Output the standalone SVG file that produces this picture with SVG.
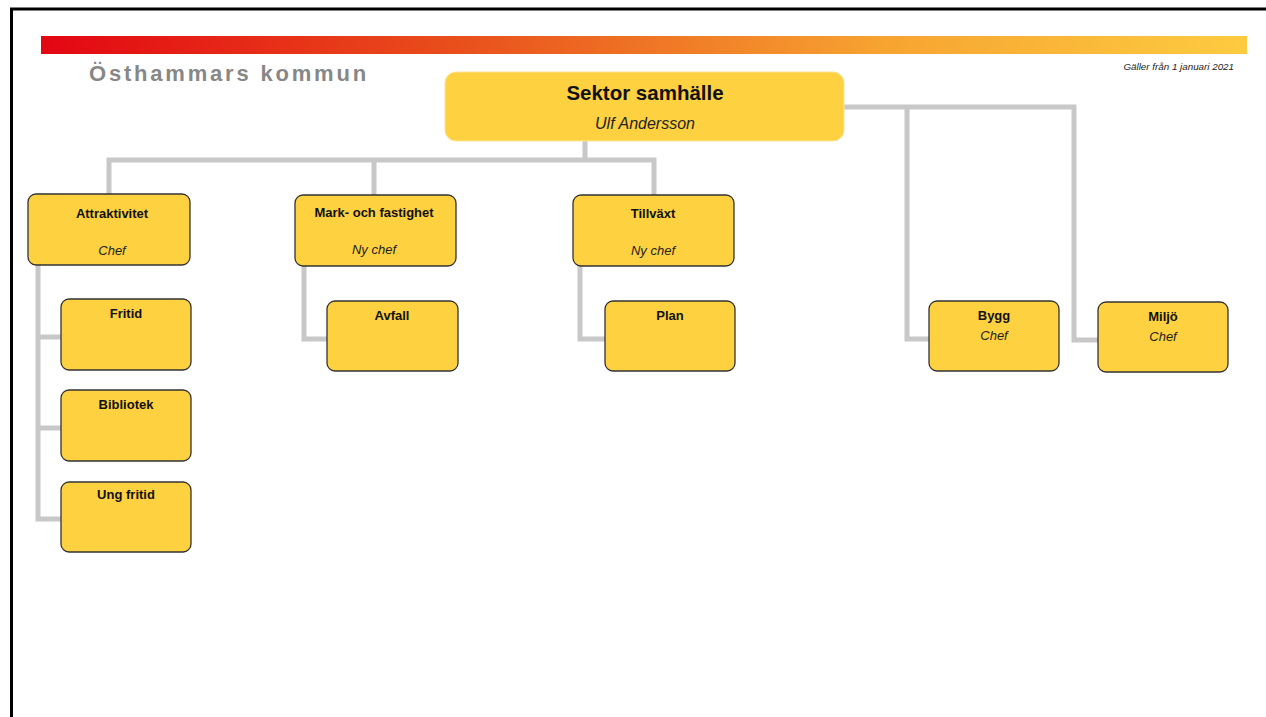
<svg xmlns="http://www.w3.org/2000/svg" width="1266" height="717" viewBox="0 0 1266 717">
<defs>
<linearGradient id="bar" x1="0" y1="0" x2="1" y2="0">
<stop offset="0" stop-color="#e30613"/>
<stop offset="0.35" stop-color="#e9501c"/>
<stop offset="0.7" stop-color="#f7a431"/>
<stop offset="1" stop-color="#fdcb40"/>
</linearGradient>
</defs>
<style>
.node{fill:#fed141;stroke:#333;stroke-width:1.3}
.top{fill:#fed141;stroke:#fde49a;stroke-width:1}
.t{font-family:"Liberation Sans",Arial,sans-serif;font-weight:bold;font-size:13px;fill:#111;text-anchor:middle}
.s{font-family:"Liberation Sans",Arial,sans-serif;font-style:italic;font-size:13px;fill:#222;text-anchor:middle}
.c{fill:none;stroke:#c8c8c8;stroke-width:5}
</style>
<rect width="1266" height="717" fill="#fff"/>
<path d="M11.5 717 V9 H1266" fill="none" stroke="#000" stroke-width="3"/>
<rect x="41" y="36" width="1206" height="18" fill="url(#bar)"/>
<text x="89" y="81" font-family="Liberation Sans,Arial,sans-serif" font-weight="bold" font-size="22" letter-spacing="2.8" fill="#878787">Östhammars kommun</text>
<text x="1234" y="70" font-family="Liberation Sans,Arial,sans-serif" font-style="italic" font-size="9.8" fill="#222" text-anchor="end">Gäller från 1 januari 2021</text>
<g id="connectors">
<path class="c" d="M585 141 V160 M109 194 V160 H654 V195 M374 160 V195"/>
<path class="c" d="M844 107 H1074 V340 H1098 M907 107 V339 H929"/>
<path class="c" d="M38 265 V519 H61 M38 337 H61 M38 428 H61"/>
<path class="c" d="M304 266 V339 H327"/>
<path class="c" d="M580 266 V339 H605"/>
</g>
<g id="sektor">
<rect class="top" x="445" y="72" width="399" height="69" rx="11"/>
<text x="645" y="100" font-family="Liberation Sans,Arial,sans-serif" font-weight="bold" font-size="20.5" fill="#111" text-anchor="middle">Sektor samhälle</text>
<text x="645" y="129" font-family="Liberation Sans,Arial,sans-serif" font-style="italic" font-size="16" fill="#222" text-anchor="middle">Ulf Andersson</text>
</g>
<g id="attraktivitet">
<rect class="node" x="28" y="194" width="162" height="71" rx="8"/>
<text class="t" x="112" y="218">Attraktivitet</text>
<text class="s" x="112" y="255">Chef</text>
</g>
<g id="mark">
<rect class="node" x="295" y="195" width="161" height="71" rx="8"/>
<text class="t" x="374" y="217">Mark- och fastighet</text>
<text class="s" x="374" y="254">Ny chef</text>
</g>
<g id="tillvaxt">
<rect class="node" x="573" y="195" width="161" height="71" rx="8"/>
<text class="t" x="653" y="218">Tillväxt</text>
<text class="s" x="653" y="255">Ny chef</text>
</g>
<g id="fritid">
<rect class="node" x="61" y="299" width="130" height="71" rx="8"/>
<text class="t" x="126" y="318">Fritid</text>
</g>
<g id="bibliotek">
<rect class="node" x="61" y="390" width="130" height="71" rx="8"/>
<text class="t" x="126" y="409">Bibliotek</text>
</g>
<g id="ungfritid">
<rect class="node" x="61" y="482" width="130" height="70" rx="8"/>
<text class="t" x="126" y="499">Ung fritid</text>
</g>
<g id="avfall">
<rect class="node" x="327" y="301" width="131" height="70" rx="8"/>
<text class="t" x="392" y="320">Avfall</text>
</g>
<g id="plan">
<rect class="node" x="605" y="301" width="130" height="70" rx="8"/>
<text class="t" x="670" y="320">Plan</text>
</g>
<g id="bygg">
<rect class="node" x="929" y="301" width="130" height="70" rx="8"/>
<text class="t" x="994" y="320">Bygg</text>
<text class="s" x="994" y="340">Chef</text>
</g>
<g id="miljo">
<rect class="node" x="1098" y="302" width="130" height="70" rx="8"/>
<text class="t" x="1163" y="321">Miljö</text>
<text class="s" x="1163" y="341">Chef</text>
</g>
</svg>
